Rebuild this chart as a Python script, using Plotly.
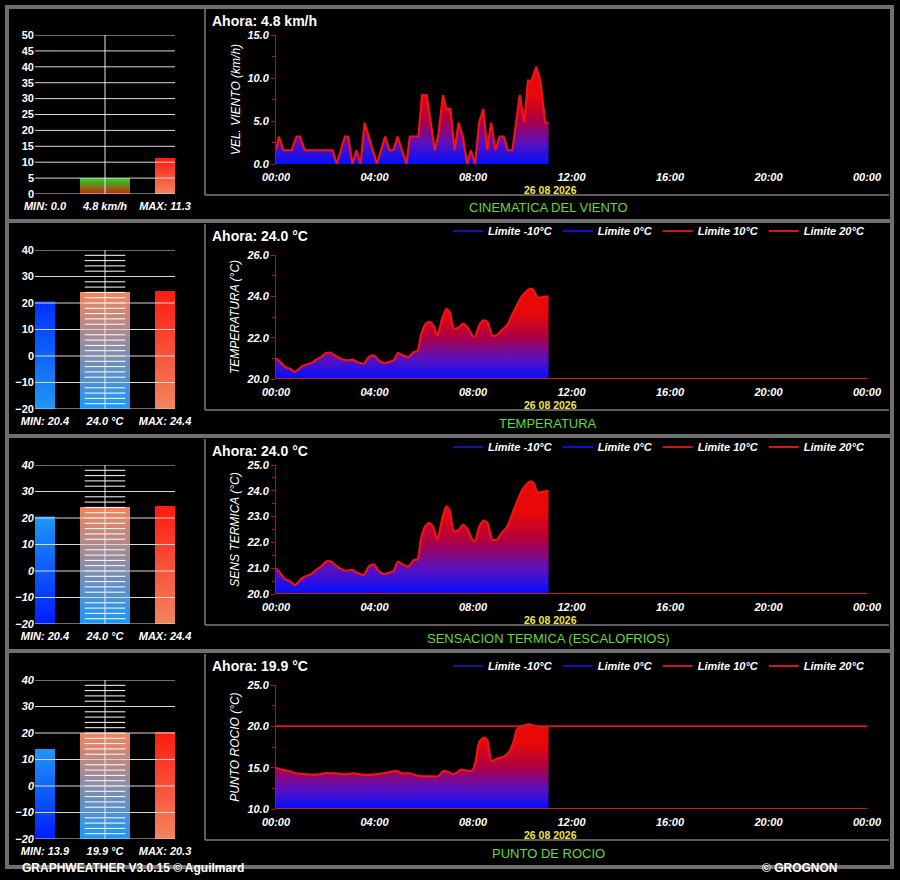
import pandas as pd
import plotly.graph_objects as go

W, H = 900, 880
DAY = "2026-08-26"
NEXT_DAY = "2026-08-27"

# ---- series ----
wind_times = ["00:00", "00:07", "00:18", "00:38", "00:50", "00:58", "01:10", "02:18",
              "02:28", "02:48", "02:56", "03:06", "03:16", "03:26", "03:36", "04:06",
              "04:26", "04:36", "04:46", "04:56", "05:18", "05:26", "05:47", "05:56",
              "06:07", "06:27", "06:35", "06:47", "06:55", "07:05", "07:15", "07:25",
              "07:35", "07:46", "07:55", "08:05", "08:15", "08:25", "08:35", "08:44",
              "08:55", "09:05", "09:15", "09:25", "09:36", "09:54", "10:05", "10:14",
              "10:23", "10:34", "10:44", "10:56", "11:04"]
wind_kmh = [1.6, 3.2, 1.6, 1.6, 3.2, 3.2, 1.6, 1.6,
            0.0, 3.2, 3.2, 0.0, 1.6, 0.0, 4.8, 0.0,
            3.2, 1.6, 1.6, 3.2, 0.0, 3.2, 3.2, 8.0,
            8.0, 1.6, 3.2, 8.0, 6.4, 6.4, 1.6, 4.8,
            3.2, 0.0, 1.6, 0.0, 4.8, 6.4, 1.6, 4.8,
            1.6, 3.2, 3.2, 1.6, 1.6, 8.0, 4.8, 9.7,
            9.7, 11.3, 9.7, 4.8, 4.8]

temp_times = ["00:00", "00:10", "00:22", "00:34", "00:46", "00:54", "01:02", "01:14",
              "01:26", "01:38", "01:50", "02:02", "02:14", "02:26", "02:42", "02:54",
              "03:06", "03:18", "03:34", "03:46", "03:58", "04:10", "04:22", "04:35",
              "04:47", "04:57", "05:08", "05:23", "05:35", "05:45", "05:53", "06:03",
              "06:13", "06:23", "06:33", "06:44", "06:55", "07:03", "07:13", "07:25",
              "07:35", "07:46", "07:59", "08:05", "08:15", "08:26", "08:35", "08:47",
              "08:58", "09:09", "09:23", "09:35", "09:47", "09:59", "10:11", "10:21",
              "10:28", "10:37", "10:52", "11:04"]
temp_c = [21.0, 20.82, 20.58, 20.5, 20.34, 20.45, 20.6, 20.7,
          20.77, 20.94, 21.06, 21.26, 21.26, 21.1, 20.94, 20.9,
          20.94, 20.82, 20.74, 21.06, 21.15, 20.9, 20.77, 20.82,
          20.9, 21.26, 21.15, 21.06, 21.3, 21.35, 22.1, 22.6,
          22.76, 22.6, 22.1, 22.84, 23.4, 23.24, 22.44, 22.48,
          22.68, 22.52, 22.1, 22.05, 22.6, 22.84, 22.76, 22.1,
          22.1, 22.35, 22.6, 23.08, 23.56, 24.0, 24.26, 24.37,
          24.29, 23.94, 23.97, 24.0]
sens_c = [21.0, 20.82, 20.58, 20.5, 20.34, 20.45, 20.6, 20.7,
          20.77, 20.94, 21.06, 21.26, 21.26, 21.1, 20.94, 20.9,
          20.94, 20.82, 20.74, 21.06, 21.15, 20.9, 20.77, 20.82,
          20.9, 21.26, 21.15, 21.06, 21.3, 21.35, 22.1, 22.6,
          22.76, 22.6, 22.1, 22.84, 23.4, 23.24, 22.44, 22.48,
          22.68, 22.52, 22.1, 22.05, 22.6, 22.84, 22.76, 22.1,
          22.1, 22.35, 22.6, 23.08, 23.56, 24.0, 24.26, 24.37,
          24.29, 23.94, 23.97, 24.0]

dew_times = ["00:00", "00:14", "00:30", "00:50", "01:14", "01:34", "01:46", "02:02",
             "02:26", "02:50", "03:06", "03:30", "03:54", "04:19", "04:35", "04:55",
             "05:07", "05:23", "05:39", "05:55", "06:19", "06:35", "06:47", "06:58",
             "07:11", "07:19", "07:31", "07:47", "07:59", "08:07", "08:15", "08:27",
             "08:35", "08:45", "08:59", "09:16", "09:28", "09:40", "09:47", "09:59",
             "10:16", "10:28", "10:44", "11:04"]
dew_c = [15.0, 14.76, 14.6, 14.3, 14.2, 14.15, 14.2, 14.35,
         14.3, 14.2, 14.3, 14.15, 14.15, 14.3, 14.44, 14.6,
         14.3, 14.35, 14.1, 13.95, 13.95, 13.95, 14.6, 14.5,
         14.2, 14.35, 14.76, 14.6, 14.68, 15.9, 18.1, 18.63,
         18.3, 15.8, 16.1, 16.37, 16.9, 18.3, 19.6, 20.0,
         20.24, 20.1, 19.9, 19.9]

# gauges: min, now, max
gauge_wind = [0.0, 4.8, 11.3]
gauge_temp = [20.4, 24.0, 24.4]
gauge_sens = [20.4, 24.0, 24.4]
gauge_dew = [13.9, 19.9, 20.3]

limit_values = [-10, 0, 10, 20]
limit_names = ["Limite -10°C", "Limite 0°C", "Limite 10°C", "Limite 20°C"]
limit_colors = ["#14149c", "#1010cc", "#c81818", "#d01a1a"]

thermo_marks = [-18, -16, -14, -12, -10, -8, -6, -4, -2, 0, 2, 4, 6, 8, 10,
                12, 14, 16, 18, 20, 22, 24, 26, 28, 30, 32, 34, 36, 38]

BAR_W = [1 / 3, 5 / 6, 1 / 3]
N_SLICES = 30
FONT = "Liberation Sans, Arial, sans-serif"
GRAY = "#6e6e6e"


def px(x):
    return x / W


def py(y):
    return 1 - y / H


def to_dt(times):
    return pd.to_datetime([f"{DAY} {t}" for t in times])


def mix(c1, c2, t):
    return "rgb(%d,%d,%d)" % tuple(round(a + (b - a) * t) for a, b in zip(c1, c2))


SALMON = (242, 132, 92)
RED = (255, 28, 18)
SKY = (30, 150, 245)
DEEP = (0, 30, 255)

fill_scale = [[0, "#0010ff"], [0.3, "#5a10c0"], [0.65, "#b00040"], [1, "#e80808"]]

panels = [
    dict(title="CINEMATICA DEL VIENTO", ytitle="VEL. VIENTO (km/h)", now="Ahora: 4.8 km/h",
         times=wind_times, vals=wind_kmh, yr=(0, 15), dtick=5, top=35, smooth=False,
         fstop=8, gauge=gauge_wind, unit="km/h", gr=(0, 50), gdtick=5,
         gcolors=[((200, 40, 16), (50, 200, 40)), ((200, 40, 16), (50, 200, 40)), (SALMON, RED)],
         marks=False, legend=None, italic=False),
    dict(title="TEMPERATURA", ytitle="TEMPERATURA (°C)", now="Ahora: 24.0 °C",
         times=temp_times, vals=temp_c, yr=(20, 26), dtick=2, top=40, smooth=True,
         fstop=23.2, gauge=gauge_temp, unit="°C", gr=(-20, 40), gdtick=10,
         gcolors=[(SKY, (0, 50, 255)), (SKY, SALMON), (SALMON, RED)],
         marks=True, legend="legend", italic=False),
    dict(title="SENSACION TERMICA (ESCALOFRIOS)", ytitle="SENS TERMICA (°C)", now="Ahora: 24.0 °C",
         times=temp_times, vals=sens_c, yr=(20, 25), dtick=1, top=35, smooth=True,
         fstop=23.2, gauge=gauge_sens, unit="°C", gr=(-20, 40), gdtick=10,
         gcolors=[(DEEP, SKY), (SKY, SALMON), (SALMON, RED)],
         marks=True, legend="legend2", italic=True),
    dict(title="PUNTO DE ROCIO", ytitle="PUNTO ROCIO (°C)", now="Ahora: 19.9 °C",
         times=dew_times, vals=dew_c, yr=(10, 25), dtick=5, top=40, smooth=True,
         fstop=18, gauge=gauge_dew, unit="°C", gr=(-20, 40), gdtick=10,
         gcolors=[(DEEP, SKY), (SKY, SALMON), (SALMON, RED)],
         marks=True, legend="legend3", italic=True),
]

fig = go.Figure()
shapes, annotations, axes = [], [], {}
day0, day1 = pd.Timestamp(DAY), pd.Timestamp(NEXT_DAY)


def note(text, x, y, size, color, anchor="left", **font):
    annotations.append(dict(text=text, x=px(x), y=py(y), xref="paper", yref="paper",
                            xanchor=anchor, yanchor="middle", showarrow=False,
                            font=dict(family=FONT, size=size, color=color, **font)))


for i, p in enumerate(panels):
    off = 215 * i
    g, c = i + 1, i + 5
    gx, gy = ("x", "y") if g == 1 else (f"x{g}", f"y{g}")
    cx, cy = f"x{c}", f"y{c}"
    lo, hi = p["gr"]

    # gauge bars, drawn as nested slices so the colour fades from bottom to top
    for k in range(N_SLICES):
        t = k / (N_SLICES - 1)
        bases = [lo + (v - lo) * k / N_SLICES for v in p["gauge"]]
        fig.add_trace(go.Bar(
            x=[0, 1, 2], y=[v - b for v, b in zip(p["gauge"], bases)], base=bases,
            width=BAR_W, marker=dict(color=[mix(b, tp, t) for b, tp in p["gcolors"]], line_width=0),
            xaxis=gx, yaxis=gy, showlegend=False, hoverinfo="skip"))
    if p["marks"]:
        fig.add_trace(go.Scatter(
            x=[1] * len(thermo_marks), y=thermo_marks, mode="markers",
            marker=dict(symbol="line-ew", size=29, line=dict(color="white", width=1)),
            xaxis=gx, yaxis=gy, showlegend=False, hoverinfo="skip"))

    # gauge grid lines above the bars
    v = lo
    while v <= hi:
        shapes.append(dict(type="line", xref=f"{gx} domain", x0=0, x1=1, yref=gy, y0=v, y1=v,
                           line=dict(color="#d8d8d8", width=1), layer="above"))
        v += p["gdtick"]
    shapes.append(dict(type="line", xref=gx, x0=1, x1=1, yref=f"{gy} domain", y0=0, y1=1,
                       line=dict(color="#e8e8e8", width=1), layer="above"))

    g_labels = [f"MIN: {p['gauge'][0]:.1f}", f"{p['gauge'][1]:.1f} {p['unit']}",
                f"MAX: {p['gauge'][2]:.1f}"]
    axes["xaxis" if g == 1 else f"xaxis{g}"] = dict(
        domain=[px(35), px(175)], range=[-1 / 6, 2 + 1 / 6], anchor=gy, automargin=False,
        tickvals=[0, 1, 2], ticktext=g_labels, tickangle=0, showgrid=False,
        zeroline=False, showline=False, ticks="outside", ticklen=2,
        tickcolor="rgba(0,0,0,0)", fixedrange=True,
        tickfont=dict(family=FONT, size=11, color="white", weight="bold", style="italic"))
    axes["yaxis" if g == 1 else f"yaxis{g}"] = dict(
        domain=[py(194 + off), py(35 + off)], range=[lo, hi], anchor=gx, dtick=p["gdtick"],
        showgrid=False, zeroline=False, showline=False, ticks="", fixedrange=True,
        automargin=False,
        tickfont=dict(family=FONT, size=11, color="white", weight="bold",
                      style="italic" if p["italic"] else "normal"))

    # history chart
    fig.add_trace(go.Scatter(
        x=to_dt(p["times"]), y=p["vals"], mode="lines",
        line=dict(color="#f01414", width=2.2, shape="spline" if p["smooth"] else "linear",
                  smoothing=0.6),
        fill="tozeroy",
        fillgradient=dict(type="vertical", colorscale=fill_scale, start=p["yr"][0],
                          stop=p["fstop"]),
        xaxis=cx, yaxis=cy, showlegend=False, hoverinfo="skip"))
    if p["legend"]:
        for lv, name, col in zip(limit_values, limit_names, limit_colors):
            fig.add_trace(go.Scatter(
                x=[day0, day1], y=[lv, lv], mode="lines", name=name,
                line=dict(color=col, width=2), xaxis=cx, yaxis=cy,
                legend=p["legend"], hoverinfo="skip"))

    axes[f"xaxis{c}"] = dict(
        domain=[px(276), px(867)], type="date", range=[day0, day1], anchor=cy,
        tick0=day0, dtick=4 * 3600 * 1000, tickformat="%H:%M", ticks="outside", ticklen=3,
        tickcolor="rgba(0,0,0,0)", showgrid=False, zeroline=False, showline=False,
        fixedrange=True, automargin=False,
        tickfont=dict(family=FONT, size=11, color="white", weight="bold", style="italic"))
    axes[f"yaxis{c}"] = dict(
        domain=[py(164 + off), py(p["top"] + off)], range=list(p["yr"]), anchor=cx,
        dtick=p["dtick"], tickformat=".1f", showline=True, linecolor="#b81010", linewidth=1,
        ticks="outside", ticklen=4, tickcolor="#b81010",
        minor=dict(dtick=p["dtick"] / 2, ticks="outside", ticklen=3, tickcolor="#b81010"),
        showgrid=False, zeroline=False, fixedrange=True, automargin=False,
        tickfont=dict(family=FONT, size=11, color="white", weight="bold", style="italic"),
        title=dict(text=p["ytitle"], standoff=4,
                   font=dict(family=FONT, size=12, color="white", style="italic")))

    # panel frame pieces
    shapes.append(dict(type="line", xref="paper", yref="paper", x0=px(205), x1=px(205),
                       y0=py(9 + off), y1=py(195 + off), line=dict(color="#7c7c7c", width=1.5)))
    shapes.append(dict(type="line", xref="paper", yref="paper", x0=px(205), x1=px(889),
                       y0=py(195 + off), y1=py(195 + off), line=dict(color="#7c7c7c", width=1.5)))

    note(p["now"], 210, [21, 236, 451, 666][i], 14, "white", weight="bold")
    note("26 08 2026", 550, 189.5 + off, 10.5, "#f2e645", anchor="center", weight="bold")
    note(p["title"], 548, 208 + off, 13, "#66d838", anchor="center")

# outer frame and panel separators
shapes.append(dict(type="rect", xref="paper", yref="paper", x0=px(7), x1=px(892),
                   y0=py(7), y1=py(867), line=dict(color=GRAY, width=4)))
for sy in [221, 436, 651]:
    shapes.append(dict(type="line", xref="paper", yref="paper", x0=px(7), x1=px(892),
                       y0=py(sy), y1=py(sy), line=dict(color=GRAY, width=4)))

note("GRAPHWEATHER V3.0.15 © Aguilmard", 20, 868, 12, "white", weight="bold")
note("© GROGNON", 760, 868, 12, "white", weight="bold")

legend_style = dict(orientation="h", x=px(448), xanchor="left", yanchor="middle",
                    bgcolor="rgba(0,0,0,0)", itemclick=False, itemdoubleclick=False,
                    font=dict(family=FONT, size=11, color="white", weight="bold", style="italic"))

fig.update_layout(
    width=W, height=H, margin=dict(l=0, r=0, t=0, b=0, autoexpand=False),
    paper_bgcolor="black", plot_bgcolor="black", barmode="overlay",
    font=dict(family=FONT, color="white"),
    legend=dict(legend_style, y=py(231)),
    legend2=dict(legend_style, y=py(447)),
    legend3=dict(legend_style, y=py(666)),
    shapes=shapes, annotations=annotations, **axes)

fig.write_html("out.html", config={"displayModeBar": False},
               post_script="document.body.style.margin='0';"
                           "document.body.style.overflow='hidden';")
